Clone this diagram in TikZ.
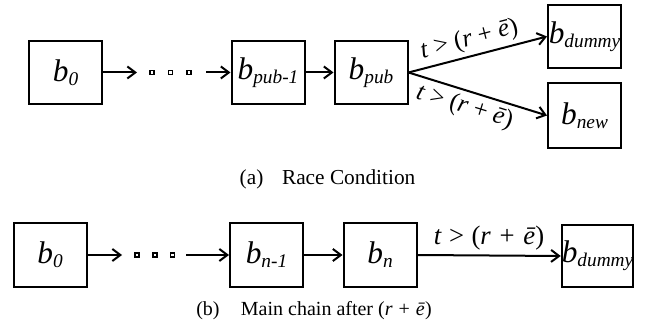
\documentclass[tikz,border=0pt]{standalone}
\usepackage{fontspec}
\setmainfont{Liberation Serif}
\usetikzlibrary{arrows.meta}
\newcommand{\blk}[1]{\textit{b}\raisebox{-3pt}{\fontsize{14.5}{16}\selectfont\textit{#1}}}
\newcommand{\cnd}{\textit{t}\hspace{5.5pt}>\hspace{5.5pt}(\textit{r}\hspace{6.5pt}+\hspace{6.5pt}\textit{ē})}
\tikzset{
    >={Straight Barb[length=6pt,width=9pt]}, % open barbed heads
    block/.style={draw, rectangle, line width=1.5pt, minimum width=54.75pt,
        minimum height=47.5pt, inner sep=0pt, font=\fontsize{23.5}{26}\selectfont},
    pip/.style={draw, rectangle, line width=1.1pt, minimum size=3pt, inner sep=0pt},
    cond/.style={font=\fontsize{19}{21}\selectfont, inner sep=3pt},
    caption/.style={font=\fontsize{16}{18}\selectfont},
}
\begin{document}
\begin{tikzpicture}[x=0.75pt, y=-0.75pt, line width=1.5pt]
    \useasboundingbox (0,0) rectangle (649,327);

    % (a) race condition
    \node[block] (a0) at (65.5,72.5) {\blk{0}};
    \foreach \i/\x in {1/152,2/170.5,3/189}
        \node[pip] (ad\i) at (\x,72.5) {};
    \coordinate (ain) at (137,72.5);
    \coordinate (aout) at (206,72.5);
    \node[block] (apre) at (268,72.5) {\blk{pub-1}};
    \node[block] (apub) at (371,72.5) {\blk{pub}};
    \node[block] (adum) at (584.5,36.5) {\blk{dummy}};
    \node[block, minimum height=48.75pt] (anew) at (584.5,115.5) {\blk{new}};

    \draw[->] (a0) -- (ain);
    \draw[->] (aout) -- (apre);
    \draw[->] (apre) -- (apub);
    \draw[->] (apub.east) -- (adum.west)
        node[cond, pos=0.47, sloped, above] {\textit{t} > (\textit{r} + \textit{ē})};
    \draw[->] (apub.east) -- (anew.west)
        node[cond, pos=0.44, sloped, below] {\textit{t} > (\textit{r} + \textit{ē})};

    \node[caption] (capa) at (327.5,179) {(a)\hspace{14pt}Race Condition};

    % (b) main chain
    \node[block] (b0) at (50,255) {\blk{0}};
    \foreach \i/\x in {1/137,2/155,3/172.5}
        \node[pip] (bd\i) at (\x,255) {};
    \coordinate (bin) at (122,255);
    \coordinate (bout) at (186,255);
    \node[block] (bpre) at (266.5,255) {\blk{n-1}};
    \node[block] (bn) at (380,255) {\blk{n}};
    \node[block, minimum width=53.25pt, minimum height=46.5pt] (bdum) at (597.5,256) {\blk{dummy}};

    \draw[->] (b0) -- (bin);
    \draw[->] (bout) -- (bpre);
    \draw[->] (bpre) -- (bn);
    \draw[->] (bn.east) -- (bdum.west) node[cond, midway, above, font=\fontsize{20}{22}\selectfont] {\cnd};

    \node[caption, font=\fontsize{15}{18}\selectfont] (capb) at (314,311)
        {(b)\hspace{16pt}Main chain after (\textit{r}\hspace{4.5pt}+\hspace{4.5pt}\textit{ē})};
\end{tikzpicture}
\end{document}
